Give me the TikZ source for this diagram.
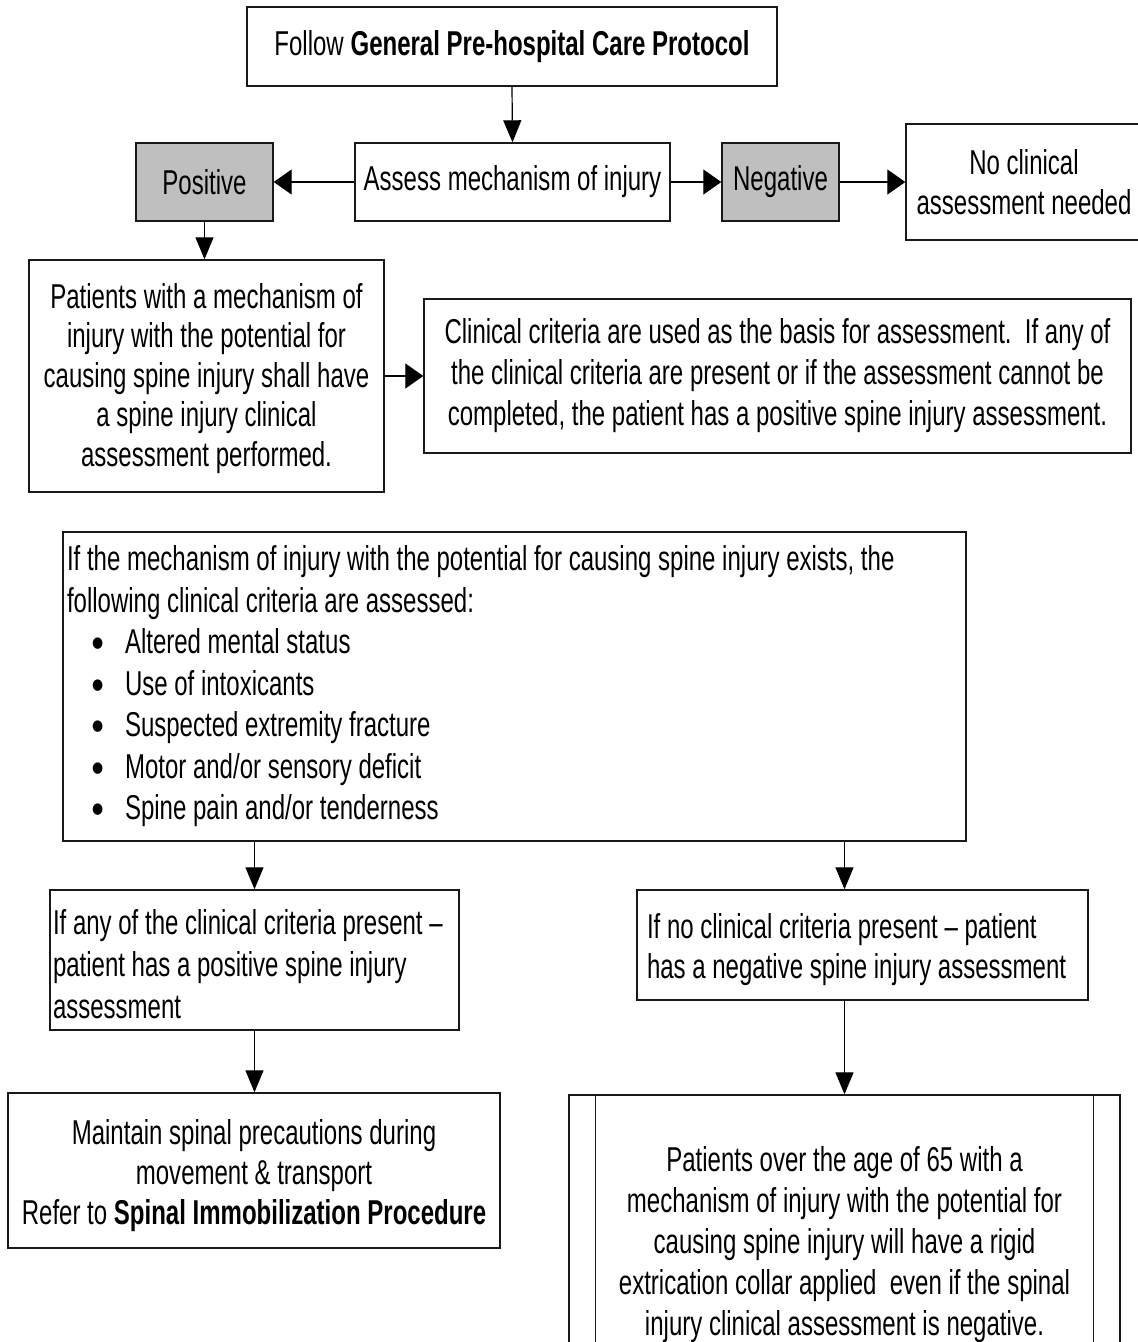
\documentclass[tikz,border=0pt]{standalone}
\usepackage{fontspec}
\setmainfont[FakeStretch=0.696]{Liberation Sans}
\newfontfamily\bulletfont[FakeStretch=0.85]{DejaVu Sans}
\usetikzlibrary{arrows.meta}
% taller first line: pushes a centred text block down by #1
\newcommand{\lowerby}[1]{\rule{0pt}{\dimexpr 26pt+2\dimexpr #1\relax\relax}}
\begin{document}
\begin{tikzpicture}[x=1pt,y=-1pt,
  box/.style={draw=black!90, line width=1.4pt, fill=white, inner sep=0pt,
    align=center, font=\fontsize{34.5}{40.5}\selectfont},
  shaded/.style={box, fill=black!25},
  leftbox/.style={box, align=flush left},
  harrow/.style={line width=1.2pt, -{Triangle[length=18pt,width=25pt]}},
  varrow/.style={line width=1.2pt, -{Triangle[length=22pt,width=18pt]}}]
\useasboundingbox (0,0) rectangle (1138,1342);

% top row
\node[box, minimum width=530pt, minimum height=79pt] (start) at (512,46.5)
  {Follow \textbf{General Pre-hospital Care Protocol}};
\node[box, minimum width=315pt, minimum height=78pt] (assess) at (512.5,182)
  {Assess mechanism of injury};
\node[shaded, minimum width=137pt, minimum height=78pt] (pos) at (204.5,182)
  {Positive};
\node[shaded, minimum width=117pt, minimum height=78pt] (neg) at (780.5,182)
  {Negative};
\node[box, minimum width=236pt, minimum height=116pt] (noassess) at (1024,182)
  {No clinical\\assessment needed};

% second row
\node[box, minimum width=355pt, minimum height=232pt,
  font=\fontsize{34.5}{39.5}\selectfont] (patients) at (206.5,376)
  {\lowerby{2pt}Patients with a mechanism of\\injury with the potential for\\causing spine injury shall have\\a spine injury clinical\\assessment performed.};
\node[box, minimum width=707pt, minimum height=154pt,
  font=\fontsize{34.5}{41}\selectfont] (criteria) at (777.5,376)
  {Clinical criteria are used as the basis for assessment.\ \ If any of\\the clinical criteria are present or if the assessment cannot be\\completed, the patient has a positive spine injury assessment.};

% criteria list
\newcommand{\itemline}[1]{\hspace*{25pt}\makebox[33pt][l]{\raisebox{6pt}{\bulletfont\fontsize{15}{15}\selectfont ●}}#1}
\node[leftbox, text width=895pt, inner xsep=4pt, minimum height=309pt,
  font=\fontsize{34.5}{41.5}\selectfont] (list) at (514.5,686.5)
  {If the mechanism of injury with the potential for causing spine injury exists, the\\
   following clinical criteria are assessed:\\
   \itemline{Altered mental status}\\
   \itemline{Use of intoxicants}\\
   \itemline{Suspected extremity fracture}\\
   \itemline{Motor and/or sensory deficit}\\
   \itemline{Spine pain and/or tenderness}};

% outcomes
\node[leftbox, text width=403pt, inner xsep=3pt, minimum height=140pt,
  font=\fontsize{34.5}{42}\selectfont] (anyc) at (254.5,960)
  {\lowerby{4pt}If any of the clinical criteria present –\\patient has a positive spine injury\\assessment};
\node[leftbox, text width=431pt, inner xsep=10pt, minimum height=110pt,
  font=\fontsize{34.5}{39.5}\selectfont] (noc) at (862.5,945)
  {\lowerby{4pt}If no clinical criteria present – patient\\has a negative spine injury assessment};
\node[box, minimum width=492pt, minimum height=155pt,
  font=\fontsize{34.5}{40}\selectfont] (maintain) at (254,1170.5)
  {\lowerby{5pt}Maintain spinal precautions during\\movement \& transport\\Refer to \textbf{Spinal Immobilization Procedure}};
\node[box, minimum width=551pt, minimum height=300pt,
  font=\fontsize{34.5}{41}\selectfont] (older) at (844.5,1245)
  {Patients over the age of 65 with a\\mechanism of injury with the potential for\\causing spine injury will have a rigid\\extrication collar applied\ \ even if the spinal\\injury clinical assessment is negative.};
\draw[line width=1.4pt, draw=black!90]
  ([xshift=27pt]older.north west) -- ([xshift=27pt]older.south west)
  ([xshift=-27pt]older.north east) -- ([xshift=-27pt]older.south east);

% connectors
\draw[varrow] (start.south) -- (assess.north);
\draw[harrow] (assess.west) -- (pos.east);
\draw[harrow] (assess.east) -- (neg.west);
\draw[harrow] (neg.east) -- (noassess.west);
\draw[varrow] (pos.south) -- (patients.north -| pos.south);
\draw[harrow] (patients.east) -- (criteria.west);
\draw[varrow] (list.south -| anyc.north) -- (anyc.north);
\draw[varrow] (list.south -| older.north) -- (noc.north -| older.north);
\draw[varrow] (anyc.south) -- (maintain.north -| anyc.south);
\draw[varrow] (noc.south -| older.north) -- (older.north);
\end{tikzpicture}
\end{document}
